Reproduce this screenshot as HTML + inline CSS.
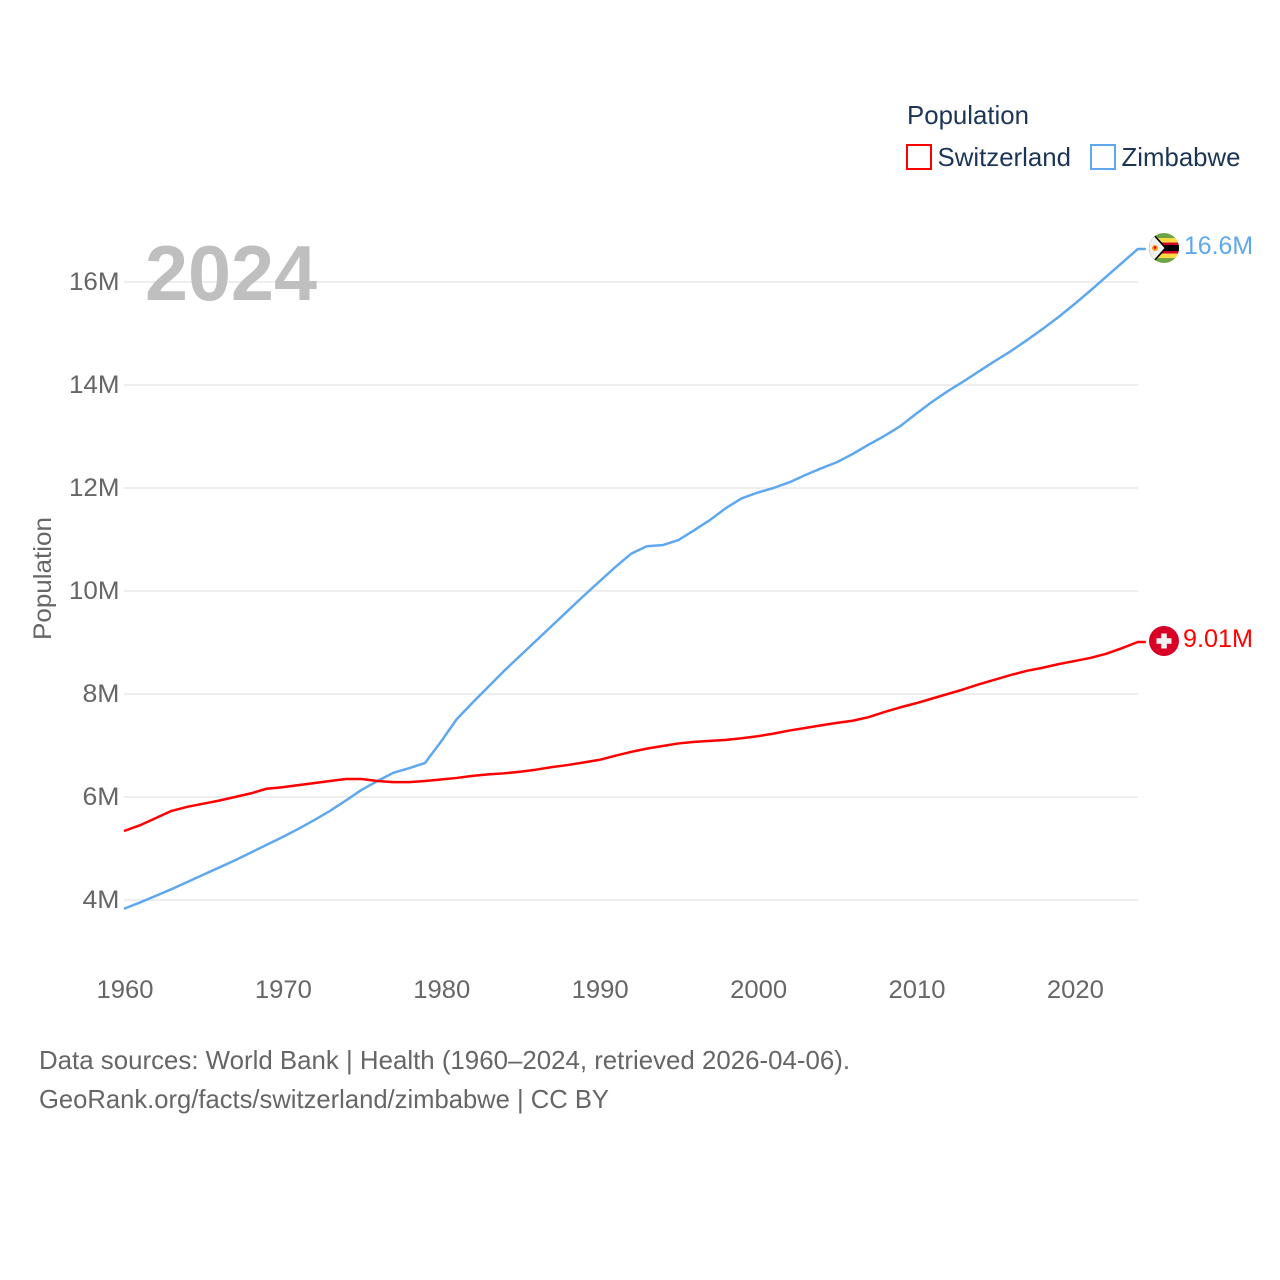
<!DOCTYPE html>
<html lang="en">
<head>
<meta charset="utf-8">
<title>Population: Switzerland and Zimbabwe</title>
<style>
html,body{margin:0;padding:0;background:#fff}
svg{display:block;font-family:"Liberation Sans",sans-serif}
</style>
</head>
<body>
<svg id="chart" xmlns="http://www.w3.org/2000/svg" width="1280" height="1280" viewBox="0 0 1280 1280">
  <defs>
    <clipPath id="flag-clip"><circle cx="0" cy="0" r="15"></circle></clipPath>
  </defs>
  <rect width="1280" height="1280" fill="#ffffff"></rect>

  <g id="grid"></g>
  <g id="y-ticks"></g>
  <g id="x-ticks"></g>

  <text x="145" y="300" font-size="78" font-weight="700" fill="#bfbfbf" textLength="172" lengthAdjust="spacingAndGlyphs">2024</text>

  <text transform="translate(51,640) rotate(-90)" font-size="25" fill="#666666" textLength="123" lengthAdjust="spacingAndGlyphs">Population</text>

  <g id="series"></g>

  <g>
    <text x="907" y="124" font-size="26" fill="#1c3557" textLength="122" lengthAdjust="spacingAndGlyphs">Population</text>
    <rect x="907" y="145" width="24" height="24" fill="none" stroke="#ff0000" stroke-width="2"></rect>
    <text x="937.500" y="166" font-size="26" fill="#1c3557" textLength="133.500" lengthAdjust="spacingAndGlyphs">Switzerland</text>
    <rect x="1091" y="145" width="24" height="24" fill="none" stroke="#5fa8ee" stroke-width="2"></rect>
    <text x="1121.500" y="166" font-size="26" fill="#1c3557" textLength="119" lengthAdjust="spacingAndGlyphs">Zimbabwe</text>
  </g>

  <g id="flag-zimbabwe">
    <g clip-path="url(#flag-clip)">
      <rect x="-15" y="-15" width="30" height="30" fill="#6da544"></rect>
      <rect x="-15" y="-10" width="30" height="20" fill="#ffda44"></rect>
      <rect x="-15" y="-5.500" width="30" height="11" fill="#d80027"></rect>
      <rect x="-15" y="-3" width="30" height="6" fill="#000000"></rect>
      <polygon points="-15,-15 -11,-15 3,0 -11,15 -15,15" fill="#000000"></polygon>
      <polygon points="-15,-14 -12,-14 0.500,0 -12,14 -15,14" fill="#f0f0f0"></polygon>
      <circle cx="-9" cy="0" r="3" fill="#ff9811"></circle>
      <circle cx="-9" cy="-0.500" r="1.300" fill="#d80027"></circle>
    </g>
  </g>

  <g id="flag-switzerland">
    <circle cx="0" cy="0" r="15" fill="#d80027"></circle>
    <rect x="-7.500" y="-2.800" width="15" height="5.600" fill="#f0f0f0"></rect>
    <rect x="-2.800" y="-7.500" width="5.600" height="15" fill="#f0f0f0"></rect>
  </g>

  <text id="label-zimbabwe" x="1184" font-size="25" fill="#5fa8ee" textLength="69" lengthAdjust="spacingAndGlyphs"></text>
  <text id="label-switzerland" x="1183" font-size="25" fill="#ff0000" textLength="70" lengthAdjust="spacingAndGlyphs"></text>

  <g>
    <text x="39" y="1069" font-size="26" fill="#666666" textLength="811" lengthAdjust="spacingAndGlyphs">Data sources: World Bank | Health (1960–2024, retrieved 2026-04-06).</text>
    <text x="39" y="1108" font-size="26" fill="#666666" textLength="570" lengthAdjust="spacingAndGlyphs">GeoRank.org/facts/switzerland/zimbabwe | CC BY</text>
  </g>
</svg>

<script>
const startYear = 1960;
const switzerlandValues = [5.34,5.45,5.59,5.73,5.81,5.87,5.93,6.00,6.07,6.16,6.19,6.23,6.27,6.31,6.35,6.35,6.31,6.29,6.29,6.31,6.34,6.37,6.41,6.44,6.46,6.49,6.53,6.58,6.62,6.67,6.72,6.80,6.875,6.94,6.99,7.04,7.07,7.09,7.11,7.14,7.18,7.23,7.29,7.34,7.39,7.44,7.48,7.55,7.65,7.74,7.82,7.91,8.00,8.09,8.19,8.28,8.37,8.45,8.51,8.58,8.64,8.70,8.78,8.89,9.01];
const zimbabweValues = [3.83,3.95,4.08,4.21,4.35,4.49,4.63,4.77,4.92,5.07,5.22,5.38,5.55,5.73,5.93,6.14,6.31,6.47,6.56,6.66,7.07,7.51,7.83,8.14,8.45,8.74,9.03,9.32,9.61,9.90,10.18,10.46,10.72,10.87,10.89,10.99,11.18,11.38,11.61,11.80,11.91,12.00,12.11,12.25,12.38,12.50,12.66,12.84,13.01,13.20,13.44,13.67,13.88,14.07,14.27,14.47,14.66,14.87,15.09,15.32,15.57,15.83,16.10,16.37,16.64];
const yTickValues = [4,6,8,10,12,14,16];
const yTickLabels = ["4M","6M","8M","10M","12M","14M","16M"];
const xTickValues = [1960,1970,1980,1990,2000,2010,2020];
const switzerlandEndLabel = "9.01M";
const zimbabweEndLabel = "16.6M";

function xScale(year){ return 124 + (year - 1960) * 15.84; }
function yScale(v){ return 900 - (v - 4) * 51.5; }

const NS = "http://www.w3.org/2000/svg";
const gridGroup = document.getElementById("grid");
const yTickGroup = document.getElementById("y-ticks");
const xTickGroup = document.getElementById("x-ticks");
const seriesGroup = document.getElementById("series");

yTickValues.forEach(function(v, i){
  const line = document.createElementNS(NS, "line");
  
  
  line.setAttribute("x1", 124);
  line.setAttribute("x2", 1138);
  line.setAttribute("y1", yScale(v));
  line.setAttribute("y2", yScale(v));
  line.setAttribute("stroke", "#eeeeee");
  line.setAttribute("stroke-width", "2");
  gridGroup.appendChild(line);

  const label = document.createElementNS(NS, "text");
  
  
  label.setAttribute("x", 119.5);
  label.setAttribute("y", yScale(v) + 8);
  label.setAttribute("text-anchor", "end");
  label.setAttribute("font-size", "25");
  label.setAttribute("fill", "#666666");
  label.setAttribute("textLength", yTickLabels[i].length === 3 ? 50.5 : 37);
  label.setAttribute("lengthAdjust", "spacingAndGlyphs");
  label.textContent = yTickLabels[i];
  yTickGroup.appendChild(label);
});

xTickValues.forEach(function(year){
  const label = document.createElementNS(NS, "text");
  
  
  label.setAttribute("x", xScale(year) + 1);
  label.setAttribute("y", 998);
  label.setAttribute("text-anchor", "middle");
  label.setAttribute("font-size", "25");
  label.setAttribute("fill", "#666666");
  label.setAttribute("textLength", 57);
  label.setAttribute("lengthAdjust", "spacingAndGlyphs");
  label.textContent = String(year);
  xTickGroup.appendChild(label);
});

function linePoints(values){
  const pts = values.map(function(v, i){
    return xScale(startYear + i).toFixed(2) + "," + yScale(v).toFixed(2);
  });
  const lastValue = values[values.length - 1];
  const lastYear = startYear + values.length - 1;
  pts.push((xScale(lastYear) + 8).toFixed(2) + "," + yScale(lastValue).toFixed(2));
  return pts.join(" ");
}

const zimLine = document.createElementNS(NS, "polyline");


zimLine.setAttribute("points", linePoints(zimbabweValues));
zimLine.setAttribute("fill", "none");
zimLine.setAttribute("stroke", "#5fa8ee");
zimLine.setAttribute("stroke-width", "2.500");
zimLine.setAttribute("stroke-linejoin", "round");
seriesGroup.appendChild(zimLine);

const swissLine = document.createElementNS(NS, "polyline");


swissLine.setAttribute("points", linePoints(switzerlandValues));
swissLine.setAttribute("fill", "none");
swissLine.setAttribute("stroke", "#ff0000");
swissLine.setAttribute("stroke-width", "2.500");
swissLine.setAttribute("stroke-linejoin", "round");
seriesGroup.appendChild(swissLine);

const zimEndY = yScale(zimbabweValues[zimbabweValues.length - 1]);
const swissEndY = yScale(switzerlandValues[switzerlandValues.length - 1]);
document.getElementById("flag-zimbabwe").setAttribute("transform", "translate(1164," + (zimEndY - 1) + ")");
document.getElementById("flag-switzerland").setAttribute("transform", "translate(1164," + (swissEndY - 1) + ")");
const zimLabel = document.getElementById("label-zimbabwe");
zimLabel.setAttribute("y", zimEndY + 5);
zimLabel.textContent = zimbabweEndLabel;
const swissLabel = document.getElementById("label-switzerland");
swissLabel.setAttribute("y", swissEndY + 5);
swissLabel.textContent = switzerlandEndLabel;
</script>
</body>
</html>
